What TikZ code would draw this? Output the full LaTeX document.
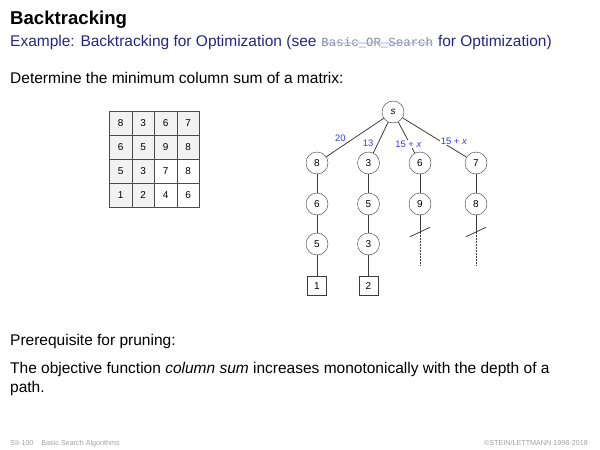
\documentclass[tikz,border=0pt]{standalone}
\usepackage{fontspec}
\setmainfont{Liberation Sans}
\setmonofont{Liberation Mono}
\usetikzlibrary{positioning,decorations.pathmorphing}
\definecolor{subblue}{RGB}{38,38,128}
\definecolor{lblblue}{RGB}{55,55,250}
\definecolor{monogray}{RGB}{135,135,160}
\definecolor{wavyblue}{RGB}{170,185,235}
\definecolor{footgray}{RGB}{160,160,160}
\definecolor{edgegray}{RGB}{60,60,60}

\begin{document}
\begin{tikzpicture}[x=1pt, y=-1pt,
  cell/.style={draw=black!70, fill=black!5, minimum width=22.5pt, minimum height=24pt,
    inner sep=0pt, font=\fontsize{10}{12}\selectfont},
  wcell/.style={cell, fill=white},
  vertex/.style={circle, draw=edgegray, fill=white, minimum size=22pt, inner sep=0pt,
    font=\fontsize{10}{12}\selectfont},
  goal/.style={rectangle, draw=edgegray, fill=white, minimum size=19pt, inner sep=0pt,
    font=\fontsize{10}{12}\selectfont},
  cost/.style={text=lblblue, inner sep=1pt, font=\fontsize{9.4}{11}\selectfont},
  body/.style={anchor=base west, inner sep=0pt, font=\fontsize{15.5}{19}\selectfont},
  foot/.style={inner sep=0pt, text=footgray, font=\fontsize{7.2}{9}\selectfont}
]
  \useasboundingbox (0,0) rectangle (600,450);

  % Heading
  \node[anchor=base west, inner sep=0pt, font=\fontsize{18.6}{22}\bfseries] (title) at (10,24) {Backtracking};
  \node[anchor=base west, inner sep=0pt, text=subblue, font=\fontsize{15.5}{18}\selectfont] (sub1) at (10,46)
    {Example: Backtracking for Optimization (see};
  \node[anchor=base west, inner sep=0pt, text=monogray, font=\fontsize{12.4}{15}\ttfamily]
    (sub2) at ([xshift=4.5pt]sub1.base east) {Basic\_OR\_Search};
  \node[anchor=base west, inner sep=0pt, text=subblue, font=\fontsize{15.5}{18}\selectfont]
    (sub3) at ([xshift=4.5pt]sub2.base east) {for Optimization)};
  \draw[wavyblue, line width=0.5pt, decorate, decoration={snake, amplitude=0.7pt, segment length=3pt}]
    ([yshift=3pt]sub2.base west) -- ([yshift=3pt]sub2.base east);

  \node[body] (task) at (10,83) {Determine the minimum column sum of a matrix:};

  % Matrix
  \node[cell] (m11) at (120.75,123) {8};  \node[cell] (m12) at (143.25,123) {3};
  \node[cell] (m13) at (165.75,123) {6};  \node[cell] (m14) at (188.25,123) {7};
  \node[cell] (m21) at (120.75,147) {6};  \node[cell] (m22) at (143.25,147) {5};
  \node[cell] (m23) at (165.75,147) {9};  \node[cell] (m24) at (188.25,147) {8};
  \node[cell] (m31) at (120.75,171) {5};  \node[cell] (m32) at (143.25,171) {3};
  \node[wcell] (m33) at (165.75,171) {7}; \node[wcell] (m34) at (188.25,171) {8};
  \node[cell] (m41) at (120.75,195) {1};  \node[cell] (m42) at (143.25,195) {2};
  \node[wcell] (m43) at (165.75,195) {4}; \node[wcell] (m44) at (188.25,195) {6};

  % Search tree
  \node[vertex] (s) at (393,112) {\itshape s};
  \node[vertex] (a8) at (317,163) {8};
  \node[vertex] (b3) at (368.5,163) {3};
  \node[vertex] (c6) at (420,163) {6};
  \node[vertex] (d7) at (476,163) {7};
  \node[vertex] (a6) at (317,204) {6};
  \node[vertex] (b5) at (368.5,204) {5};
  \node[vertex] (c9) at (420,204) {9};
  \node[vertex] (d8) at (476,204) {8};
  \node[vertex] (a5) at (317,244) {5};
  \node[vertex] (b3b) at (368.5,244) {3};
  \node[goal] (a1) at (317,286) {1};
  \node[goal] (b2) at (368.5,286) {2};

  \coordinate (cutc) at (420,232);
  \coordinate (cutd) at (476,232);
  \coordinate (endc) at (420,266);
  \coordinate (endd) at (476,266);

  \begin{scope}[edgegray, line width=0.8pt]
    \draw (s) -- (a8) node[cost, pos=0.64, above left] {20};
    \draw (s) -- (b3) node[cost, pos=0.7, left=3pt] {13};
    \draw (s) -- (c6);
    \draw (s) -- (d7);
    \node[cost, fill=white] (lc) at (408.5,144) {15 + \textit{x}};
    \node[cost, fill=white] (ld) at (454,141) {15 + \textit{x}};

    \draw (a8) -- (a6) -- (a5) -- (a1);
    \draw (b3) -- (b5) -- (b3b) -- (b2);
    \draw (c6) -- (c9) -- (cutc);
    \draw (d7) -- (d8) -- (cutd);

    % pruned branches
    \draw ([shift={(-10,4.7)}]cutc) -- ([shift={(10,-4.7)}]cutc);
    \draw ([shift={(-10,4.7)}]cutd) -- ([shift={(10,-4.7)}]cutd);
    \draw[line width=0.6pt, dash pattern=on 1.6pt off 1.4pt] (cutc) -- (endc);
    \draw[line width=0.6pt, dash pattern=on 1.6pt off 1.4pt] (cutd) -- (endd);
  \end{scope}

  % Text below
  \node[body] (pre) at (10,345) {Prerequisite for pruning:};
  \node[body] (obj1) at (10,373.5) {The objective function \textit{column sum} increases monotonically with the depth of a};
  \node[body] (obj2) at (10,392.5) {path.};

  % Footer
  \node[foot, anchor=base west] (fl) at (10,445) {SII-100\hspace{8pt}Basic Search Algorithms};
  \node[foot, anchor=base east] (fr) at (588,445) {\textcopyright STEIN/LETTMANN 1998-2018};
\end{tikzpicture}
\end{document}
